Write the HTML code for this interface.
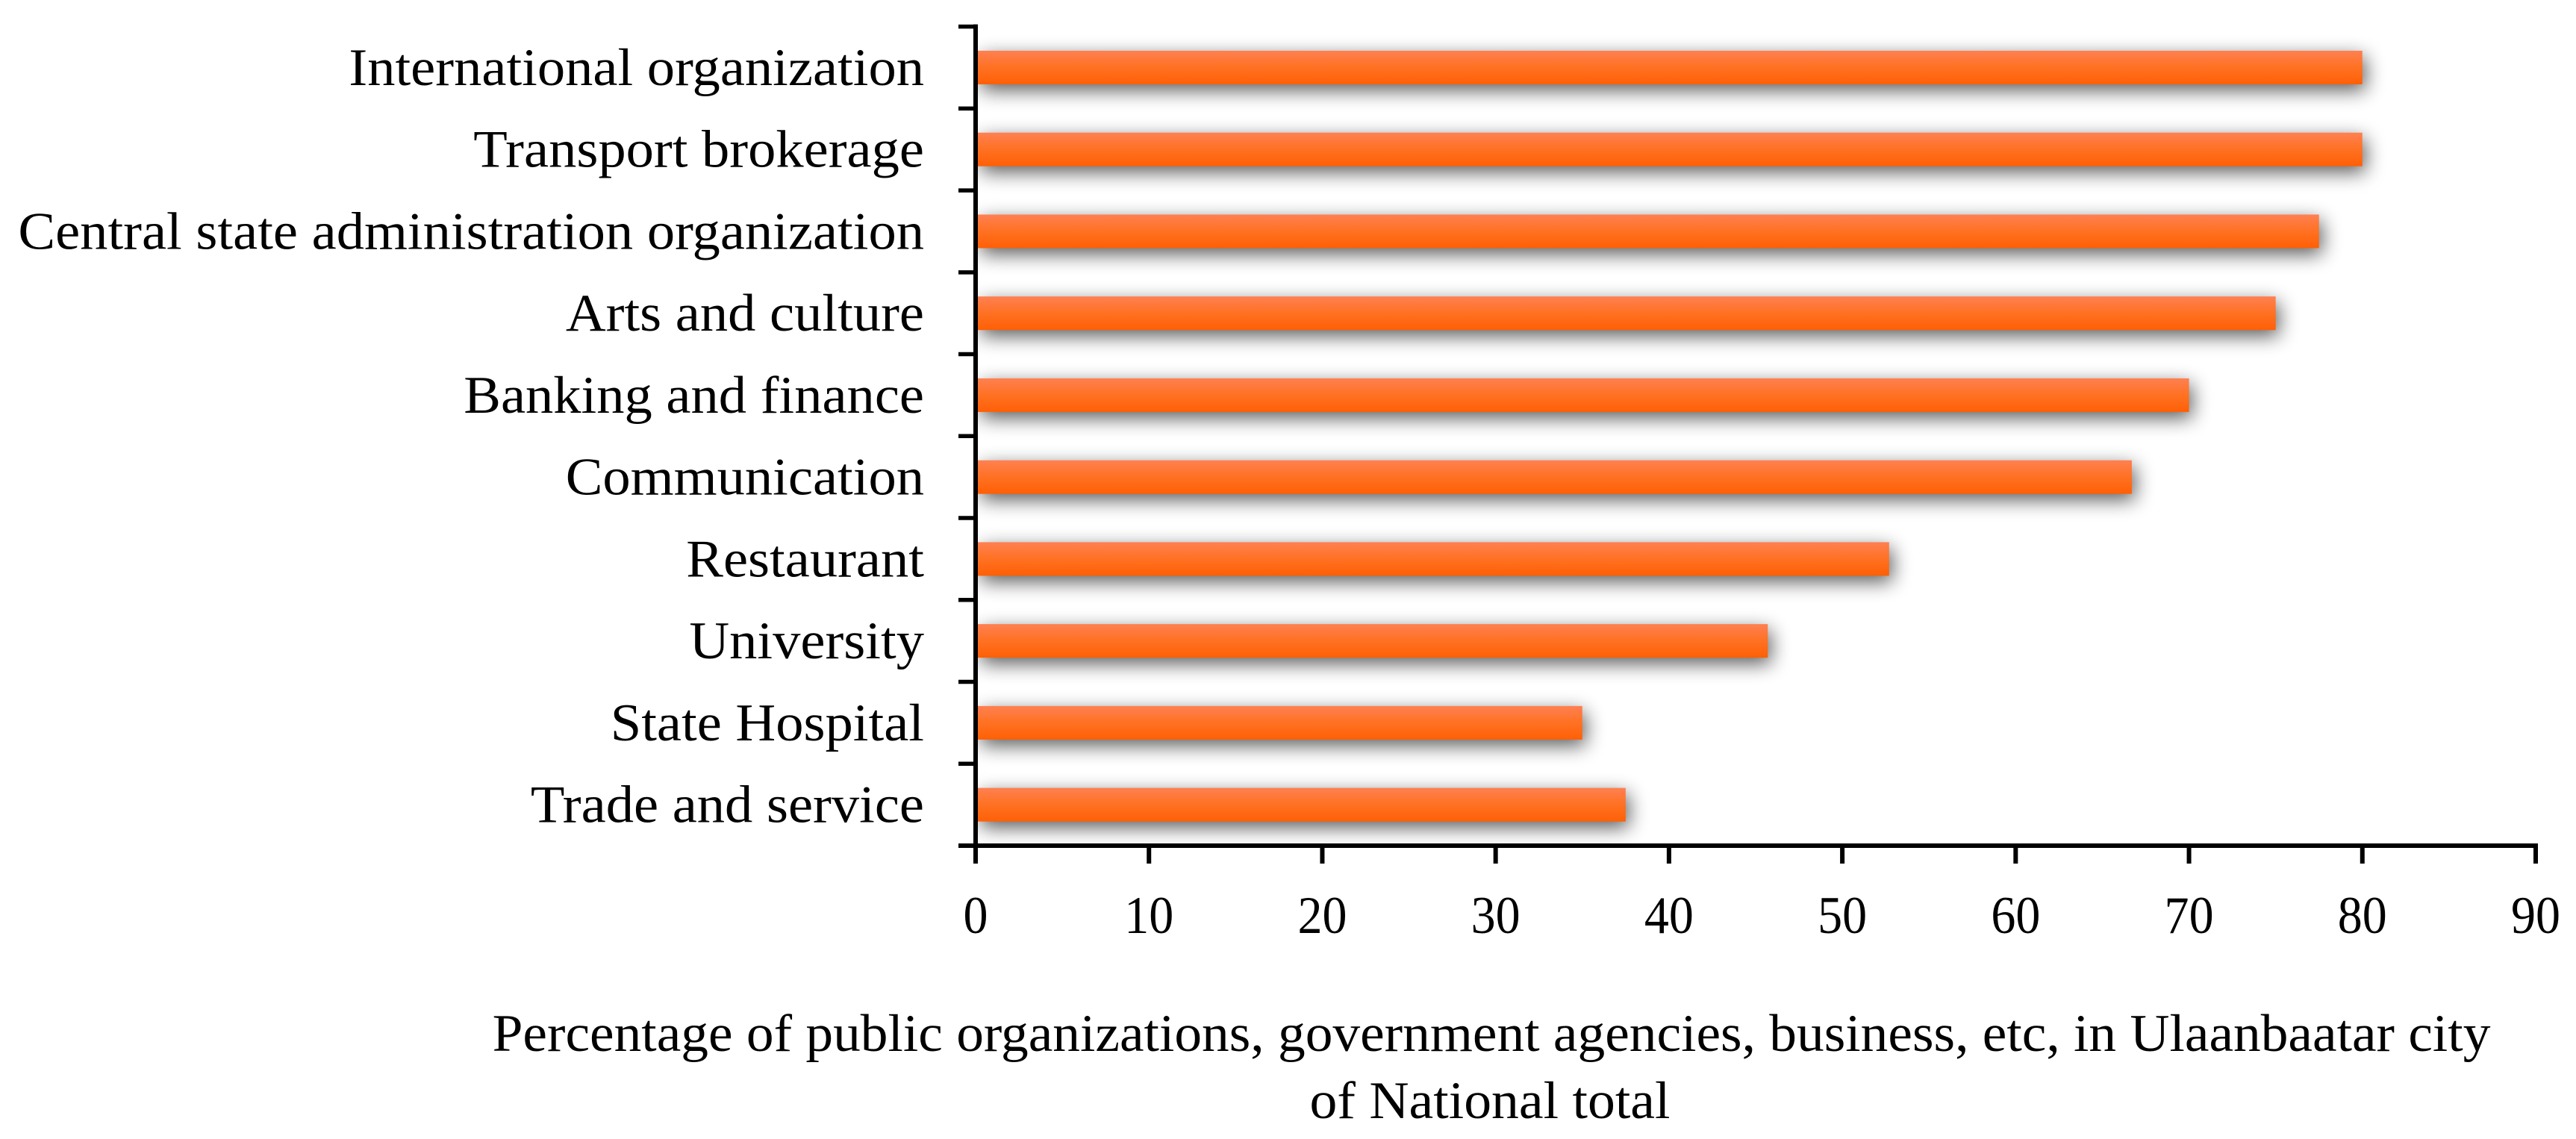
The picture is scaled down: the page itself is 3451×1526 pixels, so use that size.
<!DOCTYPE html>
<html>
<head>
<meta charset="utf-8">
<title>Percentage of organizations in Ulaanbaatar</title>
<style>
html,body{margin:0;padding:0;background:#fff;}
svg{display:block;}
text{font-family:"Liberation Serif",serif;fill:#000;}
</style>
</head>
<body>
<svg id="chart" xmlns="http://www.w3.org/2000/svg" width="3451" height="1526" viewBox="0 0 3451 1526">
<defs>
<linearGradient id="barFill" x1="0" y1="0" x2="0" y2="1">
<stop offset="0" stop-color="#ff8052"/>
<stop offset="0.5" stop-color="#ff7122"/>
<stop offset="1" stop-color="#ff5f05"/>
</linearGradient>
<filter id="barShadow" x="-5%" y="-150%" width="110%" height="400%" color-interpolation-filters="sRGB">
<feGaussianBlur in="SourceAlpha" stdDeviation="13"/>
<feOffset dx="4" dy="8"/>
<feComponentTransfer><feFuncA type="linear" slope="0.65"/></feComponentTransfer>
<feMerge><feMergeNode/><feMergeNode in="SourceGraphic"/></feMerge>
</filter>
<clipPath id="plotClip"><rect x="1310" y="0" width="2141" height="1130"/></clipPath>
</defs>
<g id="bars" clip-path="url(#plotClip)"></g>
<g id="axes"></g>
<g id="labels"></g>
<text x="0" y="0" text-anchor="middle" font-size="71" transform="translate(1998,1408) scale(1.034,1)">Percentage of public organizations, government agencies, business, etc, in Ulaanbaatar city</text>
<text x="0" y="0" text-anchor="middle" font-size="71" transform="translate(1996,1498) scale(1.038,1)">of National total</text>
</svg>
<script>
const categories = ["International organization","Transport brokerage","Central state administration organization","Arts and culture","Banking and finance","Communication","Restaurant","University","State Hospital","Trade and service"];
const percentages = [80,80,77.5,75,70,66.7,52.7,45.7,35,37.5];
const xTicks = [0,10,20,30,40,50,60,70,80,90];

const NS = "http://www.w3.org/2000/svg";
const plotLeft = 1307, plotRight = 3397, plotTop = 35.6, plotBottom = 1133;
const xMax = 90;
const xScale = v => plotLeft + (v / xMax) * (plotRight - plotLeft);
const bandHeight = (plotBottom - plotTop) / categories.length;
const bandTop = i => plotTop + i * bandHeight;
const barHeight = 45;
const labelScaleX = 1.05;
const tickLabelScaleX = 0.93;

const barsG = document.getElementById("bars");
const axesG = document.getElementById("axes");
const labelsG = document.getElementById("labels");

function line(x1, y1, x2, y2, w) {
  const l = document.createElementNS(NS, "line");
  l.setAttribute("x1", x1); l.setAttribute("y1", y1);
  l.setAttribute("x2", x2); l.setAttribute("y2", y2);
  l.setAttribute("stroke", "#000"); l.setAttribute("stroke-width", w);
  axesG.appendChild(l);
  return l;
}

categories.forEach((name, i) => {
  const center = bandTop(i) + bandHeight / 2;
  const r = document.createElementNS(NS, "rect");
  r.setAttribute("x", 1310);
  r.setAttribute("y", center - barHeight / 2);
  r.setAttribute("width", xScale(percentages[i]) - 1310);
  r.setAttribute("height", barHeight);
  r.setAttribute("fill", "url(#barFill)");
  r.setAttribute("filter", "url(#barShadow)");
  
  
  barsG.appendChild(r);

  const t = document.createElementNS(NS, "text");
  t.setAttribute("x", 0);
  t.setAttribute("y", 0);
  t.setAttribute("text-anchor", "end");
  t.setAttribute("font-size", 71);
  t.setAttribute("transform", "translate(1238," + (center + barHeight / 2 + 1) + ") scale(" + labelScaleX + ",1)");
  t.textContent = name;
  
  
  labelsG.appendChild(t);
});

const yAxis = line(plotLeft, plotTop - 3, plotLeft, 1157, 6);


const xAxis = line(1284, plotBottom, plotRight + 3, plotBottom, 6);



for (let i = 0; i < categories.length; i++) {
  const yt = line(1284, bandTop(i), plotLeft, bandTop(i), 5.5);
  
  
}

xTicks.forEach(v => {
  const xt = line(xScale(v), plotBottom, xScale(v), 1157, 6);
  
  

  const t = document.createElementNS(NS, "text");
  t.setAttribute("x", 0);
  t.setAttribute("y", 0);
  t.setAttribute("text-anchor", "middle");
  t.setAttribute("font-size", 71);
  t.setAttribute("transform", "translate(" + xScale(v) + ",1250) scale(" + tickLabelScaleX + ",1)");
  t.textContent = v;
  
  
  labelsG.appendChild(t);
});
</script>
</body>
</html>
